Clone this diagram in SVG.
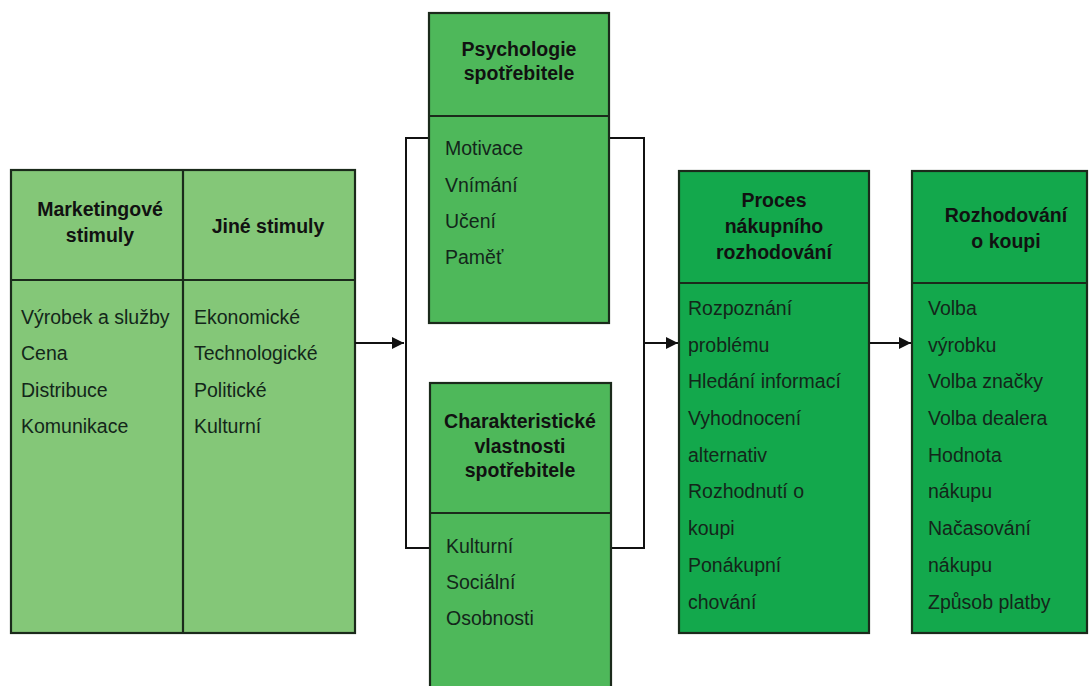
<svg xmlns="http://www.w3.org/2000/svg" width="1089" height="686" viewBox="0 0 1089 686">
<defs>
<marker id="arr" markerWidth="12" markerHeight="12" refX="12" refY="6" orient="auto" markerUnits="userSpaceOnUse">
<path d="M0,0 L12,6 L0,12 Z" fill="#111"/>
</marker>
<style>
.box{stroke:#1b2a1b;stroke-width:2.2}
.c1{fill:#84c778}
.c2{fill:#4eb85a}
.c3{fill:#13a84c}
.ln{stroke:#1b2a1b;stroke-width:2.2;fill:none}
.h{font-family:"Liberation Sans",Arial,sans-serif;font-weight:bold;font-size:19.5px;fill:#111;text-anchor:middle}
.t{font-family:"Liberation Sans",Arial,sans-serif;font-size:19.5px;fill:#13261a}
.con{stroke:#111;stroke-width:2;fill:none}
</style>
</defs>
<rect width="1089" height="686" fill="#fff"/>

<g id="stimuly">
<rect class="box c1" x="11" y="170" width="344" height="463"/>
<line class="ln" x1="183" y1="170" x2="183" y2="633"/>
<line class="ln" x1="11" y1="280" x2="355" y2="280"/>
<text class="h" x="100" y="216">Marketingové</text>
<text class="h" x="100" y="242">stimuly</text>
<text class="h" x="268" y="233">Jiné stimuly</text>
<text class="t" x="21" y="324">Výrobek a služby</text>
<text class="t" x="21" y="360">Cena</text>
<text class="t" x="21" y="397">Distribuce</text>
<text class="t" x="21" y="433">Komunikace</text>
<text class="t" x="194" y="324">Ekonomické</text>
<text class="t" x="194" y="360">Technologické</text>
<text class="t" x="194" y="397">Politické</text>
<text class="t" x="194" y="433">Kulturní</text>
</g>

<g id="connectors">
<line class="con" x1="355" y1="343" x2="404" y2="343" marker-end="url(#arr)"/>
<polyline class="con" points="429,138 406,138 406,548 430,548"/>
<polyline class="con" points="609,138 644,138 644,548 611,548"/>
<line class="con" x1="644" y1="343" x2="678" y2="343" marker-end="url(#arr)"/>
<line class="con" x1="869" y1="343" x2="911" y2="343" marker-end="url(#arr)"/>
</g>

<g id="psychologie">
<rect class="box c2" x="429" y="13" width="180" height="310"/>
<line class="ln" x1="429" y1="116" x2="609" y2="116"/>
<text class="h" x="519" y="56">Psychologie</text>
<text class="h" x="519" y="80">spotřebitele</text>
<text class="t" x="445" y="155">Motivace</text>
<text class="t" x="445" y="192">Vnímání</text>
<text class="t" x="445" y="228">Učení</text>
<text class="t" x="445" y="264">Paměť</text>
</g>

<g id="charakteristiky">
<rect class="box c2" x="430" y="383" width="181" height="310"/>
<line class="ln" x1="430" y1="513" x2="611" y2="513"/>
<text class="h" x="520" y="428">Charakteristické</text>
<text class="h" x="520" y="453">vlastnosti</text>
<text class="h" x="520" y="477">spotřebitele</text>
<text class="t" x="446" y="553">Kulturní</text>
<text class="t" x="446" y="589">Sociální</text>
<text class="t" x="446" y="625">Osobnosti</text>
</g>

<g id="proces">
<rect class="box c3" x="679" y="171" width="190" height="462"/>
<line class="ln" x1="679" y1="283" x2="869" y2="283"/>
<text class="h" x="774" y="207">Proces</text>
<text class="h" x="774" y="233">nákupního</text>
<text class="h" x="774" y="259">rozhodování</text>
<text class="t" x="688" y="315">Rozpoznání</text>
<text class="t" x="688" y="352">problému</text>
<text class="t" x="688" y="388">Hledání informací</text>
<text class="t" x="688" y="425">Vyhodnocení</text>
<text class="t" x="688" y="462">alternativ</text>
<text class="t" x="688" y="498">Rozhodnutí o</text>
<text class="t" x="688" y="535">koupi</text>
<text class="t" x="688" y="572">Ponákupní</text>
<text class="t" x="688" y="609">chování</text>
</g>

<g id="rozhodovani">
<rect class="box c3" x="912" y="171" width="175" height="462"/>
<line class="ln" x1="912" y1="283" x2="1087" y2="283"/>
<text class="h" x="1006" y="222">Rozhodování</text>
<text class="h" x="1006" y="248">o koupi</text>
<text class="t" x="928" y="315">Volba</text>
<text class="t" x="928" y="352">výrobku</text>
<text class="t" x="928" y="388">Volba značky</text>
<text class="t" x="928" y="425">Volba dealera</text>
<text class="t" x="928" y="462">Hodnota</text>
<text class="t" x="928" y="498">nákupu</text>
<text class="t" x="928" y="535">Načasování</text>
<text class="t" x="928" y="572">nákupu</text>
<text class="t" x="928" y="609">Způsob platby</text>
</g>
</svg>
